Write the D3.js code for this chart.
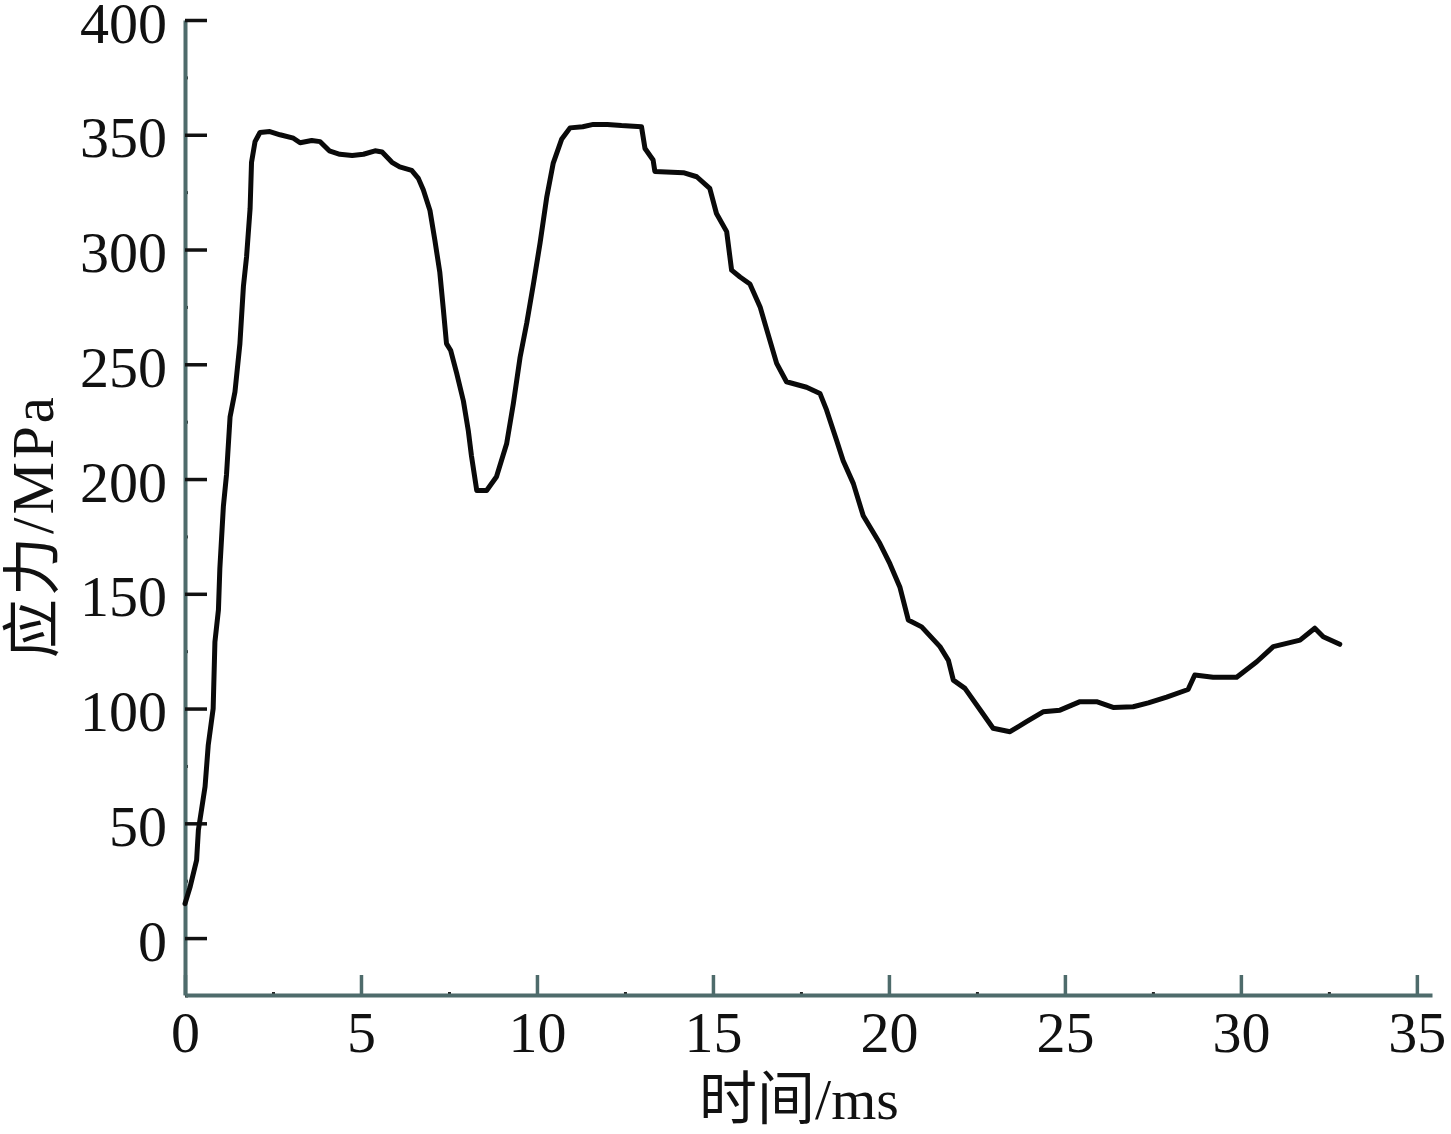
<!DOCTYPE html>
<html>
<head>
<meta charset="utf-8">
<script src="https://cdn.jsdelivr.net/npm/d3@7"></script>
<style>
    body { margin: 0; background: #fff; }
    svg { display: block; }
    .tick text { font-family: "Liberation Serif", "Times New Roman", serif; font-size: 58px; fill: #111; }
    .axisTitle { font-family: "Liberation Serif", "Noto Sans CJK SC", serif; fill: #111; }
</style>
</head>
<body>
<div id="chart"></div>
<script>

// time (ms) and stress (MPa)
var timeMs = [0, 0.14, 0.33, 0.38, 0.47, 0.57, 0.66, 0.8, 0.85, 0.95, 0.99, 1.09, 1.18, 1.28, 1.42,
    1.56, 1.66, 1.75, 1.85, 1.89, 1.99, 2.13, 2.41, 2.7, 3.08, 3.27, 3.6, 3.84, 4.1, 4.4, 4.75,
    5.07, 5.4, 5.6, 5.88, 6.1, 6.44, 6.63, 6.77, 6.96, 7.1, 7.24, 7.34, 7.43, 7.55, 7.72, 7.91,
    8.05, 8.14, 8.29, 8.57, 8.85, 9.14, 9.33, 9.52, 9.71, 9.9, 10.09, 10.28, 10.46, 10.7, 10.94,
    11.3, 11.6, 12.0, 12.4, 12.97, 13.07, 13.3, 13.35, 14.16, 14.54, 14.91, 15.1, 15.39, 15.53,
    15.77, 16.05, 16.34, 16.53, 16.81, 17.09, 17.66, 18.04, 18.23, 18.51, 18.7, 18.99, 19.27,
    19.74, 20.03, 20.31, 20.55, 20.93, 21.45, 21.69, 21.83, 22.16, 22.63, 22.96, 23.44, 23.91,
    24.38, 24.86, 25.43, 25.9, 26.37, 26.94, 27.37, 27.89, 28.5, 28.69, 29.21, 29.88, 30.45,
    30.92, 31.68, 32.1, 32.34, 32.81];

var stressMPa = [15, 22, 34, 47, 56, 66, 84, 100, 129, 143, 161, 188, 202, 227, 238,
    259, 284, 297, 318, 338, 347, 351, 351.4, 350, 348.5, 346.5, 347.5, 347, 343, 341.5, 341,
    341.5, 343, 342.5, 338, 336, 334.5, 331, 326, 317, 304, 290, 274, 259, 256, 246, 234,
    221, 210, 195, 195, 201, 215.5, 233, 253, 268, 285, 303, 323, 337.5, 348, 353,
    353.5, 354.5, 354.5, 354, 353.5, 344, 339, 334, 333.5, 331.7, 326.6, 315.7, 307.8, 291,
    288, 285, 275, 265, 250.4, 242.4, 240, 237.3, 230, 217, 208, 198, 184,
    172, 163, 153, 138.6, 135.6, 127, 121, 112.4, 108.8, 98.6, 91.4, 89.9, 94.3,
    98.6, 99.3, 103, 103, 100.5, 100.8, 102.5, 105, 108.3, 114.6, 113.6, 113.6, 120.4,
    127, 129.8, 135, 131.3, 128];

var xTicks = [0, 5, 10, 15, 20, 25, 30, 35];
var xMinorTicks = [2.5, 7.5, 12.5, 17.5, 22.5, 27.5, 32.5];
var yTicks = [0, 50, 100, 150, 200, 250, 300, 350, 400];
var yMinorTicks = [-25, 25, 75, 125, 175, 225, 275, 325, 375];

var xTitle = "时间/ms";
var yTitle = "应力/MPa";

var svgWidth = 1451;
var svgHeight = 1134;
var axisColor = "#4e6b6b";

var svg = d3.select("#chart").append("svg")
    .attr("width", svgWidth)
    .attr("height", svgHeight);

// scales, plot box is 185..1432 wide and 20..995 high
var xScale = d3.scaleLinear()
    .domain([0, 35.43])
    .range([185, 1432]);

var yScale = d3.scaleLinear()
    .domain([-24.8, 400])
    .range([995, 20]);

// minor ticks first so major ones sit on top
svg.append("g")
    .attr("transform", `translate(0, ${yScale.range()[0]})`)
    .call(d3.axisBottom(xScale).tickValues(xMinorTicks).tickSizeInner(-3).tickSizeOuter(0).tickFormat(""))
    .call(g => g.select(".domain").remove())
    .call(g => g.selectAll("line").attr("stroke", "#222").attr("stroke-width", 3));

svg.append("g")
    .attr("transform", `translate(${xScale.range()[0]}, 0)`)
    .call(d3.axisLeft(yScale).tickValues(yMinorTicks).tickSizeInner(-3).tickSizeOuter(0).tickFormat(""))
    .call(g => g.select(".domain").remove())
    .call(g => g.selectAll("line").attr("stroke", "#222").attr("stroke-width", 3));

// x axis, ticks pointing up into the plot
var xAxis = d3.axisBottom(xScale)
    .tickValues(xTicks)
    .tickSizeInner(-20)
    .tickSizeOuter(0)
    .tickPadding(16)
    .tickFormat(d3.format("d"));

svg.append("g")
    .attr("class", "xAxis")
    .attr("transform", `translate(0, ${yScale.range()[0]})`)
    .call(xAxis)
    .call(g => g.select(".domain").attr("stroke", axisColor).attr("stroke-width", 4))
    .call(g => g.selectAll(".tick line").attr("stroke", axisColor).attr("stroke-width", 3.5))
    .call(g => g.selectAll(".tick text").attr("font-size", null).attr("font-family", null));

// y axis, black ticks pointing right
var yAxis = d3.axisLeft(yScale)
    .tickValues(yTicks)
    .tickSizeInner(-22)
    .tickSizeOuter(0)
    .tickPadding(18)
    .tickFormat(d3.format("d"));

svg.append("g")
    .attr("class", "yAxis")
    .attr("transform", `translate(${xScale.range()[0]}, 0)`)
    .call(yAxis)
    .call(g => g.select(".domain").attr("stroke", axisColor).attr("stroke-width", 4))
    .call(g => g.selectAll(".tick line").attr("stroke", "#111").attr("stroke-width", 3.5))
    .call(g => g.selectAll(".tick text").attr("font-size", null).attr("font-family", null).attr("dy", "0.38em"));

// the stress curve
var curveData = timeMs.map((t, i) => ({ t: t, v: stressMPa[i] }));

var line = d3.line()
    .x(d => xScale(d.t))
    .y(d => yScale(d.v));

svg.append("path")
    .datum(curveData)
    .attr("fill", "none")
    .attr("stroke", "#0a0a0a")
    .attr("stroke-width", 5)
    .attr("stroke-linejoin", "round")
    .attr("stroke-linecap", "round")
    .attr("d", line);

// axis titles
svg.append("text")
    .attr("class", "axisTitle")
    .attr("x", 799)
    .attr("y", 1119)
    .attr("font-size", 58)
    .attr("text-anchor", "middle")
    .text(xTitle);

svg.append("text")
    .attr("class", "axisTitle")
    .attr("transform", "translate(53, 526) rotate(-90)")
    .attr("font-size", 59)
    .attr("letter-spacing", 3)
    .attr("text-anchor", "middle")
    .text(yTitle);

</script>
</body>
</html>
